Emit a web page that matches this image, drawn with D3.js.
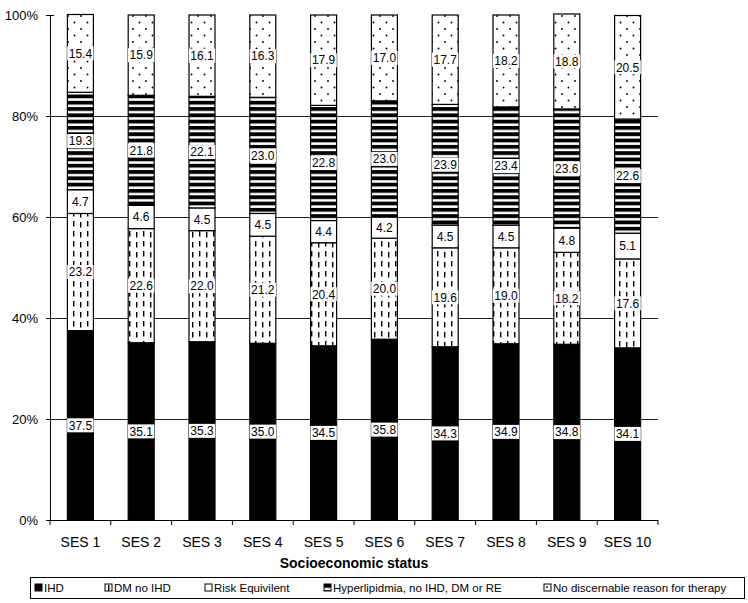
<!DOCTYPE html>
<html>
<head>
<meta charset="utf-8">
<script src="https://cdn.jsdelivr.net/npm/d3@7/dist/d3.min.js"></script>
<style>
  html, body { margin: 0; padding: 0; background: #fff; }
  svg { display: block; font-family: Arial, "Liberation Sans", sans-serif; }
</style>
</head>
<body>
<svg id="chart" width="748" height="603"></svg>
<script>
// Reasons for lipid-lowering therapy by socioeconomic status (percent of patients)
const categories = ["SES 1", "SES 2", "SES 3", "SES 4", "SES 5", "SES 6", "SES 7", "SES 8", "SES 9", "SES 10"];
const seriesNames = ["IHD", "DM no IHD", "Risk Equivilent", "Hyperlipidmia, no IHD, DM or RE", "No discernable reason for therapy"];
const ihd          = [37.5, 35.1, 35.3, 35.0, 34.5, 35.8, 34.3, 34.9, 34.8, 34.1];
const dmNoIhd      = [23.2, 22.6, 22.0, 21.2, 20.4, 20.0, 19.6, 19.0, 18.2, 17.6];
const riskEquiv    = [4.7, 4.6, 4.5, 4.5, 4.4, 4.2, 4.5, 4.5, 4.8, 5.1];
const hyperlipid   = [19.3, 21.8, 22.1, 23.0, 22.8, 23.0, 23.9, 23.4, 23.6, 22.6];
const noReason     = [15.4, 15.9, 16.1, 16.3, 17.9, 17.0, 17.7, 18.2, 18.8, 20.5];
const yTicks = [0, 20, 40, 60, 80, 100];
const xTitle = "Socioeconomic status";

const seriesValues = [ihd, dmNoIhd, riskEquiv, hyperlipid, noReason];
const keys = ["ihd", "dm", "re", "hl", "nr"];
const rows = categories.map((c, i) => {
  const r = { cat: c };
  keys.forEach((k, j) => { r[k] = seriesValues[j][i]; });
  return r;
});

const svg = d3.select("#chart");
const margin = { left: 50, right: 90, top: 15, bottom: 83 };
const W = 748, H = 603;
const plotL = 50, plotR = 658, plotT = 15, plotB = 520;

// Fill patterns for each series
const defs = svg.append("defs");
const dots = defs.append("pattern").attr("id", "p-nr").attr("patternUnits", "userSpaceOnUse")
  .attr("width", 13).attr("height", 13);
dots.append("rect").attr("width", 13).attr("height", 13).attr("fill", "#fff");
dots.append("circle").attr("cx", 3).attr("cy", 3).attr("r", 0.95).attr("fill", "#000");
dots.append("circle").attr("cx", 9.5).attr("cy", 9.5).attr("r", 0.95).attr("fill", "#000");

const dashes = defs.append("pattern").attr("id", "p-dm").attr("patternUnits", "userSpaceOnUse")
  .attr("width", 14).attr("height", 10);
dashes.append("rect").attr("width", 14).attr("height", 10).attr("fill", "#fff");
dashes.append("rect").attr("x", 3).attr("y", 1).attr("width", 1.4).attr("height", 5.5).attr("fill", "#000");
dashes.append("rect").attr("x", 10).attr("y", 2).attr("width", 1.4).attr("height", 5.5).attr("fill", "#000");

const stripes = defs.append("pattern").attr("id", "p-hl").attr("patternUnits", "userSpaceOnUse")
  .attr("width", 6).attr("height", 6.3);
stripes.append("rect").attr("width", 6).attr("height", 6.3).attr("fill", "#fff");
stripes.append("rect").attr("y", 0).attr("width", 6).attr("height", 3.8).attr("fill", "#000");

const fills = { ihd: "#000", dm: "url(#p-dm)", re: "#fff", hl: "url(#p-hl)", nr: "url(#p-nr)" };

const x = d3.scaleBand().domain(categories).range([plotL, plotR]).paddingInner(0).paddingOuter(0);
const y = d3.scaleLinear().domain([0, 100]).range([plotB, plotT]);
const barW = 26;

// Gridlines
svg.append("g").selectAll("line").data(yTicks.filter(t => t > 0 && t < 100)).join("line")
  .attr("x1", plotL).attr("x2", plotR)
  .attr("y1", d => y(d) + 0.5).attr("y2", d => y(d) + 0.5)
  .attr("stroke", "#222").attr("stroke-width", 1);

// Stacked bars
const stack = d3.stack().keys(keys)(rows);
const layer = svg.append("g").selectAll("g").data(stack).join("g")
  .attr("fill", d => fills[d.key]);
layer.selectAll("rect").data(d => d).join("rect")
  .attr("x", d => x(d.data.cat) + x.bandwidth() / 2 - barW / 2)
  .attr("y", d => y(d[1]))
  .attr("width", barW)
  .attr("height", d => y(d[0]) - y(d[1]))
  .attr("stroke", "#000").attr("stroke-width", 1.2);

// Value labels in white boxes
const labelG = svg.append("g").attr("font-size", 12).attr("fill", "#000");
stack.forEach(s => {
  s.forEach(d => {
    const v = d.data[s.key];
    const cx = x(d.data.cat) + x.bandwidth() / 2;
    const cy = (y(d[0]) + y(d[1])) / 2;
    const txt = v.toFixed(1);
    const g = labelG.append("g");
    const t = g.append("text").attr("x", cx).attr("y", cy + 4.3)
      .attr("text-anchor", "middle").text(txt);
    const bw = t.node().getComputedTextLength() + 3;
    g.insert("rect", "text").attr("x", cx - bw / 2).attr("y", cy - 7)
      .attr("width", bw).attr("height", 14).attr("fill", "#fff");
  });
});

// Y axis
const yAxis = d3.axisLeft(y).tickValues(yTicks).tickFormat(d => d + "%").tickSize(4).tickPadding(8);
const yg = svg.append("g").attr("transform", `translate(${plotL},0)`).call(yAxis);
yg.select(".domain").attr("stroke", "#000");
yg.selectAll(".tick line").attr("x2", 4).attr("x1", -4).attr("stroke", "#000");
yg.selectAll(".tick text").attr("font-size", 13).attr("font-family", "Arial, 'Liberation Sans', sans-serif").attr("fill", "#000");

// X axis baseline with ticks between categories
const xg = svg.append("g");
xg.append("line").attr("x1", plotL).attr("x2", plotR).attr("y1", plotB + 0.5).attr("y2", plotB + 0.5).attr("stroke", "#000");
const bounds = categories.map(c => x(c)).concat([plotR]);
xg.selectAll(".xt").data(bounds).join("line").attr("class", "xt")
  .attr("x1", d => d).attr("x2", d => d).attr("y1", plotB).attr("y2", plotB + 5).attr("stroke", "#000");
xg.selectAll(".xl").data(categories).join("text").attr("class", "xl")
  .attr("x", d => x(d) + x.bandwidth() / 2).attr("y", 547)
  .attr("text-anchor", "middle").attr("font-size", 14).text(d => d);

svg.append("text").attr("x", (plotL + plotR) / 2).attr("y", 568)
  .attr("text-anchor", "middle").attr("font-size", 14).attr("font-weight", "bold").text(xTitle);

// Legend
const legend = svg.append("g");
legend.append("rect").attr("x", 30.5).attr("y", 577.5).attr("width", 714).attr("height", 21)
  .attr("fill", "#fff").attr("stroke", "#000");
const legendX = [35, 105, 205, 324, 544];
const li = legend.selectAll(".li").data(keys).join("g").attr("class", "li")
  .attr("transform", (d, i) => `translate(${legendX[i]},584)`);
li.append("rect").attr("width", 7).attr("height", 7)
  .attr("fill", d => fills[d]).attr("stroke", "#000").attr("stroke-width", 1);
li.append("text").attr("x", 9).attr("y", 7.5).attr("font-size", 11.5)
  .text((d, i) => seriesNames[i]);
</script>
</body>
</html>
